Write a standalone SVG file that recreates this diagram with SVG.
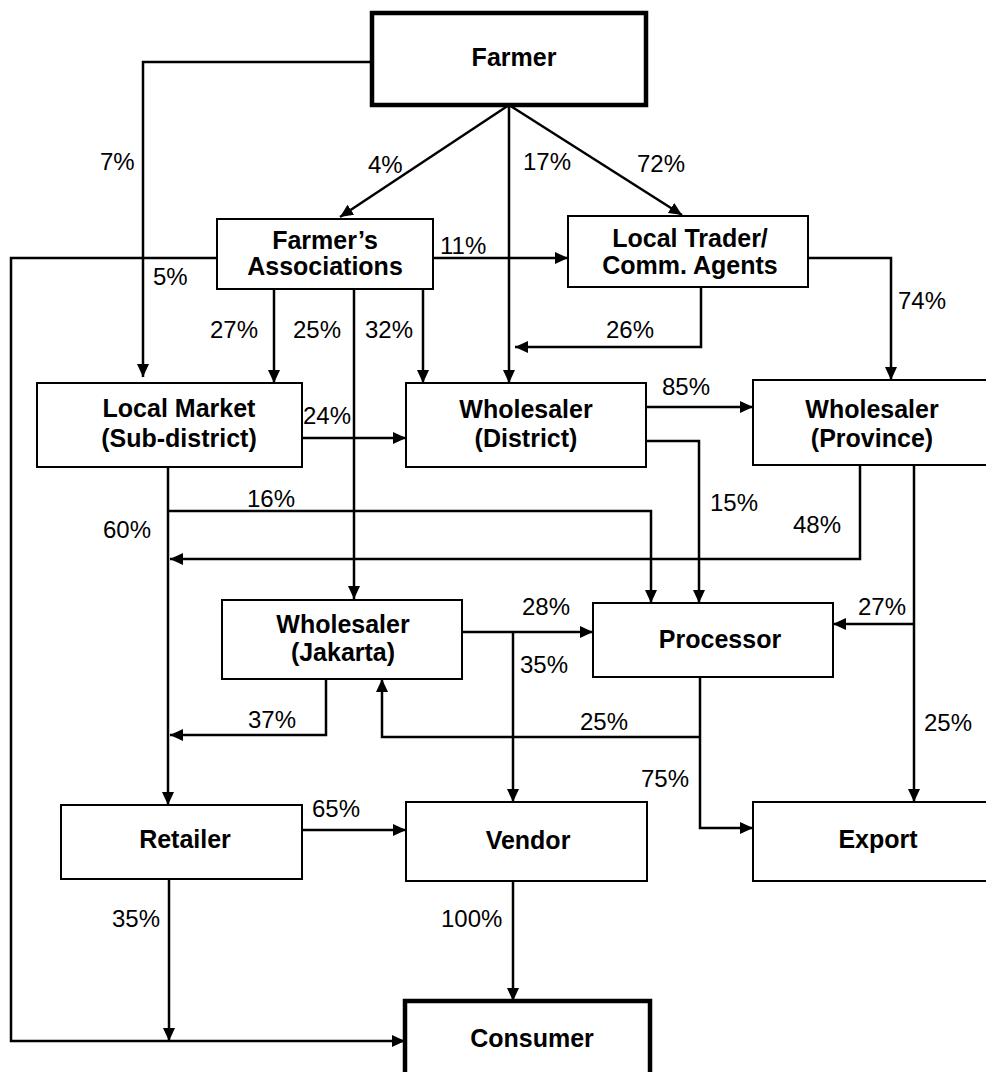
<svg xmlns="http://www.w3.org/2000/svg" width="986" height="1072" viewBox="0 0 986 1072">
<style>
.box{fill:#fff;stroke:#000;stroke-width:2}
.thick{fill:#fff;stroke:#000;stroke-width:4.5}
.t{font-family:"Liberation Sans",Arial,sans-serif;font-weight:bold;font-size:25px;text-anchor:middle;fill:#000}
.p{font-family:"Liberation Sans",Arial,sans-serif;font-size:24px;fill:#000}
.c{fill:none;stroke:#000;stroke-width:2.5}
.a{marker-end:url(#ah)}
</style>
<defs>
<marker id="ah" markerUnits="userSpaceOnUse" markerWidth="14" markerHeight="13" refX="13" refY="6" orient="auto">
<path d="M0,0 L13,6 L0,12 z" fill="#000"/>
</marker>
</defs>
<rect width="986" height="1072" fill="#fff"/>
<g id="connectors">
<path class="c a" d="M372 62 H143 V377"/>
<path class="c a" d="M509 105 L340 217"/>
<path class="c a" d="M509 105 L682 215"/>
<path class="c a" d="M509 105 V383"/>
<path class="c a" d="M433 258 H568"/>
<path class="c a" d="M217 258 H11 V1041 H405"/>
<path class="c a" d="M274 289 V383"/>
<path class="c a" d="M354 289 V599"/>
<path class="c a" d="M423 289 V383"/>
<path class="c a" d="M701 287 V347 H515"/>
<path class="c a" d="M808 258 H891 V380"/>
<path class="c a" d="M302 438 H406"/>
<path class="c a" d="M646 407 H753"/>
<path class="c a" d="M646 441 H699 V603"/>
<path class="c a" d="M168 467 V805"/>
<path class="c a" d="M168 511 H651 V603"/>
<path class="c a" d="M860 465 V559 H170"/>
<path class="c a" d="M914 465 V802"/>
<path class="c a" d="M914 624 H833"/>
<path class="c a" d="M462 632 H593"/>
<path class="c a" d="M513 632 V802"/>
<path class="c a" d="M700 677 V828 H753"/>
<path class="c a" d="M700 737 H382 V679"/>
<path class="c a" d="M326 679 V735 H170"/>
<path class="c a" d="M302 830 H406"/>
<path class="c a" d="M169 879 V1041"/>
<path class="c a" d="M513 881 V1001"/>
</g>
<g id="labels">
<text class="p" x="100" y="170">7%</text>
<text class="p" x="368" y="173">4%</text>
<text class="p" x="523" y="170">17%</text>
<text class="p" x="637" y="172">72%</text>
<text class="p" x="440" y="254">11%</text>
<text class="p" x="153" y="285">5%</text>
<text class="p" x="210" y="338">27%</text>
<text class="p" x="293" y="338">25%</text>
<text class="p" x="365" y="338">32%</text>
<text class="p" x="606" y="338">26%</text>
<text class="p" x="898" y="309">74%</text>
<text class="p" x="303" y="424">24%</text>
<text class="p" x="662" y="395">85%</text>
<text class="p" x="247" y="507">16%</text>
<text class="p" x="103" y="538">60%</text>
<text class="p" x="710" y="511">15%</text>
<text class="p" x="793" y="533">48%</text>
<text class="p" x="522" y="615">28%</text>
<text class="p" x="858" y="615">27%</text>
<text class="p" x="520" y="673">35%</text>
<text class="p" x="248" y="728">37%</text>
<text class="p" x="580" y="730">25%</text>
<text class="p" x="924" y="731">25%</text>
<text class="p" x="641" y="787">75%</text>
<text class="p" x="312" y="817">65%</text>
<text class="p" x="112" y="927">35%</text>
<text class="p" x="441" y="927">100%</text>
</g>
<g id="farmer"><rect class="thick" x="372" y="13" width="274" height="92"/><text class="t" x="514" y="66">Farmer</text></g>
<g id="farmers-associations"><rect class="box" x="217" y="219" width="216" height="70"/><text class="t" x="325" y="249">Farmer’s</text><text class="t" x="325" y="275">Associations</text></g>
<g id="local-trader"><rect class="box" x="568" y="216" width="240" height="71"/><text class="t" x="690" y="247">Local Trader/</text><text class="t" x="690" y="274">Comm. Agents</text></g>
<g id="local-market"><rect class="box" x="37" y="383" width="265" height="84"/><text class="t" x="179" y="417">Local Market</text><text class="t" x="179" y="447">(Sub-district)</text></g>
<g id="wholesaler-district"><rect class="box" x="406" y="383" width="240" height="84"/><text class="t" x="526" y="418">Wholesaler</text><text class="t" x="526" y="447">(District)</text></g>
<g id="wholesaler-province"><rect class="box" x="753" y="380" width="260" height="85"/><text class="t" x="872" y="418">Wholesaler</text><text class="t" x="872" y="447">(Province)</text></g>
<g id="wholesaler-jakarta"><rect class="box" x="222" y="600" width="240" height="79"/><text class="t" x="343" y="633">Wholesaler</text><text class="t" x="343" y="661">(Jakarta)</text></g>
<g id="processor"><rect class="box" x="593" y="603" width="240" height="74"/><text class="t" x="720" y="648">Processor</text></g>
<g id="retailer"><rect class="box" x="61" y="805" width="241" height="74"/><text class="t" x="185" y="848">Retailer</text></g>
<g id="vendor"><rect class="box" x="406" y="802" width="241" height="79"/><text class="t" x="528" y="849">Vendor</text></g>
<g id="export"><rect class="box" x="753" y="802" width="260" height="79"/><text class="t" x="878" y="848">Export</text></g>
<g id="consumer"><rect class="thick" x="405" y="1001" width="245" height="100"/><text class="t" x="532" y="1047">Consumer</text></g>
</svg>
